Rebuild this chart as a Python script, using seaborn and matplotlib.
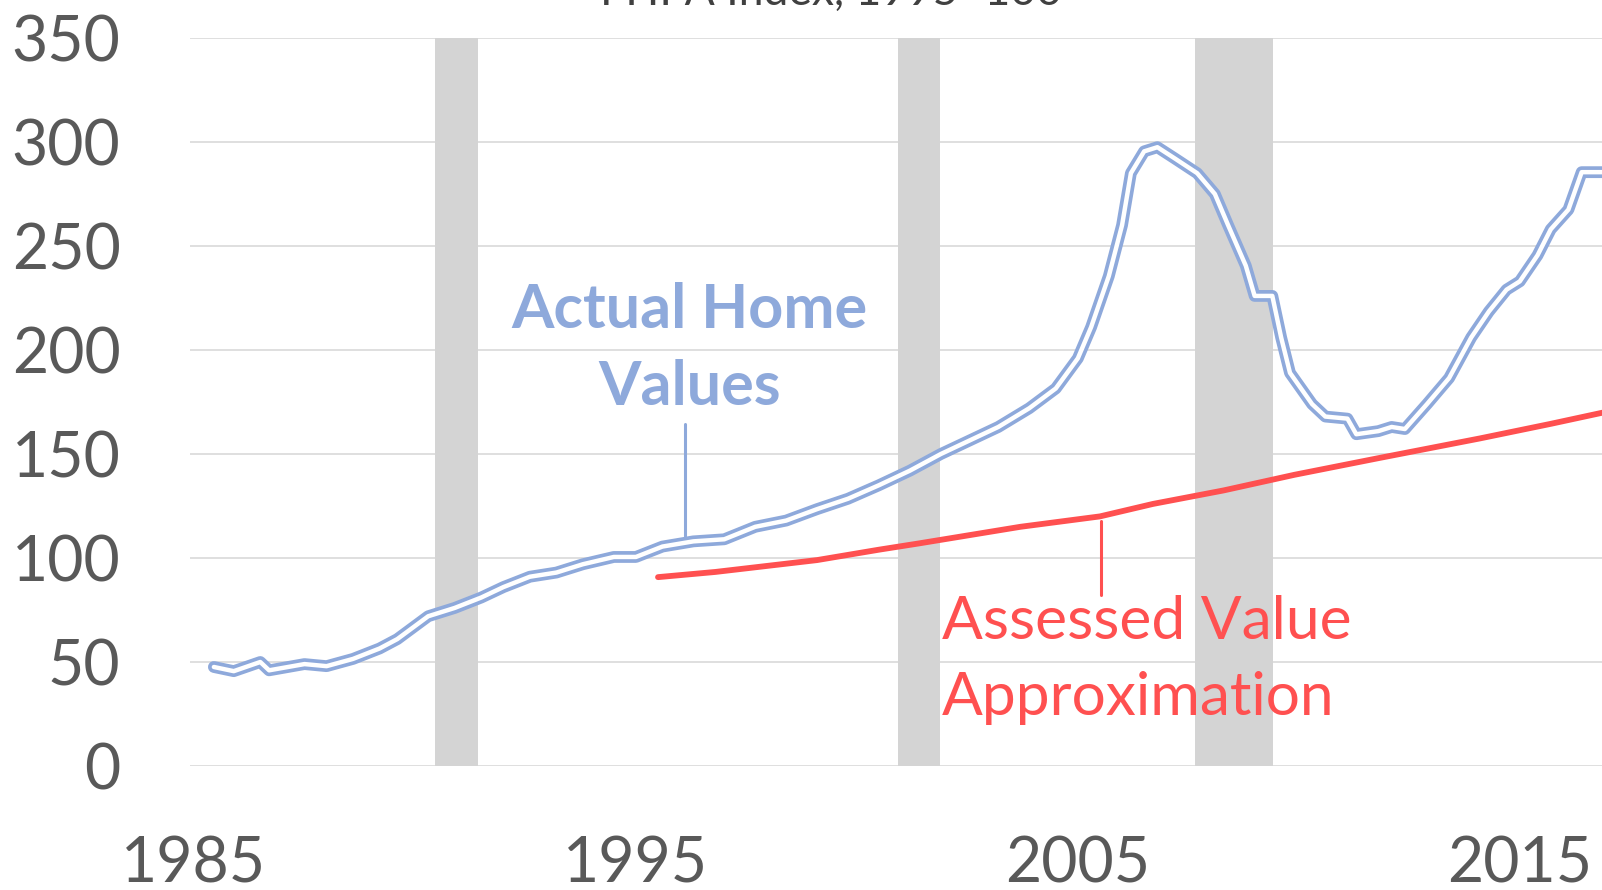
import matplotlib
matplotlib.use("Agg")
import matplotlib.pyplot as plt
import seaborn as sns
import pandas as pd

# FHFA house price index (1995 = 100)
home_years = [1985.45, 1985.9, 1986.5, 1986.7, 1987.5, 1988.0, 1988.6, 1989.2, 1989.6,
              1990.3, 1990.9, 1991.5, 1992.0, 1992.6, 1993.2, 1993.8, 1994.5, 1995.0,
              1995.6, 1996.3, 1997.0, 1997.7, 1998.4, 1999.1, 1999.8, 2000.5, 2001.2,
              2001.9, 2002.6, 2003.2, 2003.9, 2004.5, 2005.0, 2005.3, 2005.7, 2006.0,
              2006.2, 2006.5, 2006.8, 2007.2, 2007.7, 2008.1, 2008.4, 2008.8, 2009.0,
              2009.4, 2009.6, 2009.8, 2010.3, 2010.6, 2011.1, 2011.3, 2011.8, 2012.1,
              2012.4, 2012.9, 2013.4, 2013.9, 2014.3, 2014.7, 2015.0, 2015.4, 2015.7,
              2016.1, 2016.4, 2016.9]
home_values = [47.6, 45.6, 50.0, 46.0, 49.0, 48.0, 51.5, 56.5, 61.0,
               72.0, 76.0, 81.0, 86.0, 91.0, 93.0, 97.0, 100.5, 100.5,
               105.5, 108.0, 109.0, 115.0, 118.0, 123.5, 128.5, 135.0, 142.0,
               150.0, 157.0, 163.0, 172.0, 181.5, 196.0, 211.0, 235.5, 260.0,
               285.0, 295.5, 297.5, 292.0, 285.0, 275.0, 260.0, 240.5, 226.0,
               226.0, 206.0, 189.0, 174.0, 168.0, 167.0, 159.5, 161.0, 163.0,
               162.0, 174.0, 186.5, 206.0, 218.5, 229.0, 233.0, 245.5, 258.0,
               267.5, 285.5, 285.5]

assessed_years = [1995.5, 1996.8, 1999.1, 2000.5, 2001.4, 2003.7, 2005.5, 2006.7,
                  2008.3, 2009.9, 2011.8, 2014.1, 2015.7, 2016.9]
assessed_values = [90.8, 93.3, 99.0, 104.0, 107.0, 115.0, 120.0, 126.0,
                   132.5, 140.0, 148.0, 157.5, 164.5, 170.0]

recessions = [(1990.45, 1991.42), (2000.93, 2001.88), (2007.65, 2009.41)]

y_ticks = [0, 50, 100, 150, 200, 250, 300, 350]
x_ticks = [1985, 1995, 2005, 2015]

home = pd.DataFrame({"year": home_years, "value": home_values})
assessed = pd.DataFrame({"year": assessed_years, "value": assessed_values})

sns.set_style("white")
plt.rcParams["font.family"] = ["Lato", "DejaVu Sans"]

blue = "#8EA9DB"
red = "#FF5050"
grey_txt = "#595959"

fig = plt.figure(figsize=(16.02, 8.9), dpi=100)
ax = fig.add_axes([190 / 1602, 1 - 766 / 890, 1 - 190 / 1602, (766 - 38) / 890])

for start, end in recessions:
    ax.axvspan(start, end, color="#D4D4D4", lw=0, zorder=1)

# double line: thick blue with a thin white core
sns.lineplot(data=home, x="year", y="value", ax=ax, color=blue, lw=8.5,
             zorder=3, solid_joinstyle="round", solid_capstyle="round")
sns.lineplot(data=home, x="year", y="value", ax=ax, color="white", lw=3.2,
             zorder=4, solid_joinstyle="round", solid_capstyle="round")
sns.lineplot(data=assessed, x="year", y="value", ax=ax, color=red, lw=4.2,
             zorder=3, solid_capstyle="round")

ax.set_xlim(1984.91, 2016.86)
ax.set_ylim(0, 350)
ax.set_yticks(y_ticks)
ax.set_xticks(x_ticks)
ax.grid(axis="y", color="#D9D9D9", lw=1.2, zorder=0)
ax.set_axisbelow(True)
for s in ax.spines.values():
    s.set_visible(False)
ax.tick_params(axis="y", length=0, pad=50, labelsize=45, labelcolor=grey_txt)
ax.tick_params(axis="x", length=0, pad=50, labelsize=45, labelcolor=grey_txt)
ax.set_xlabel("")
ax.set_ylabel("")

# annotations
ax.text(1996.22, 200.7, "Actual Home\nValues", color=blue, fontsize=44, fontweight="bold",
        ha="center", va="center", linespacing=1.46)
ax.plot([1996.1, 1996.1], [164.5, 110.6], color=blue, lw=2.2)
ax.text(2001.92, 50.8, "Assessed Value\nApproximation", color=red, fontsize=43.5,
        ha="left", va="center", linespacing=1.5)
ax.plot([2005.52, 2005.52], [117.8, 82.2], color=red, lw=2.2)

fig.text(831 / 1602, 1 - 5 / 890, "FHFA Index, 1995=100", color="#404040",
         fontsize=32, ha="center", va="baseline")

fig.savefig("out.png", dpi=100)
